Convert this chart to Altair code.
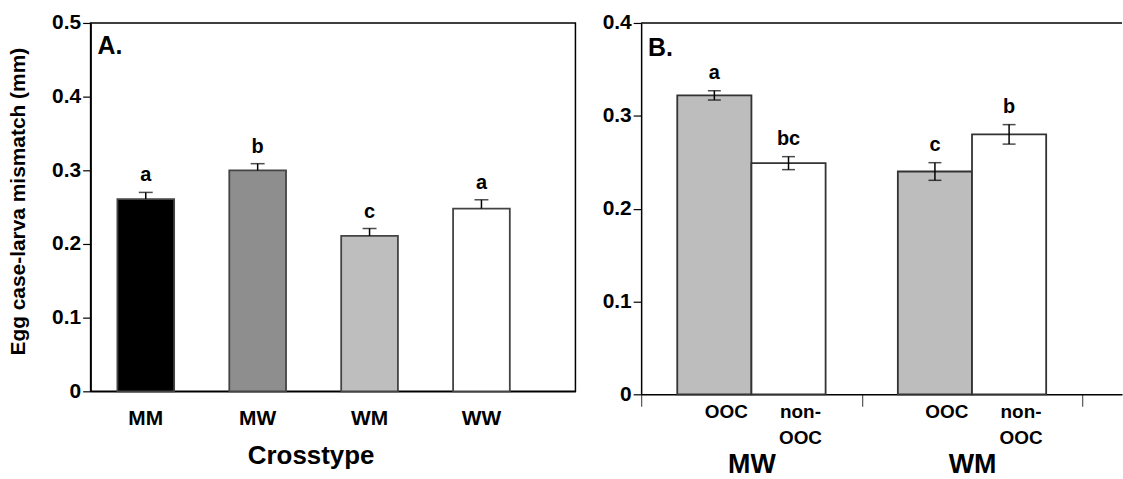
import altair as alt
import pandas as pd

# ---- Panel A data ----
crosstypes = ["MM", "MW", "WM", "WW"]
means_a = [0.261, 0.300, 0.211, 0.248]
se_a = [0.009, 0.009, 0.010, 0.012]
letters_a = ["a", "b", "c", "a"]
colors_a = ["#000000", "#8e8e8e", "#bebebe", "#ffffff"]

# ---- Panel B data ----
groups_b = ["MW", "MW", "WM", "WM"]
treat_b = ["OOC", "non-OOC", "OOC", "non-OOC"]
treat_labels_b = ["OOC", "non-\nOOC", "OOC", "non-\nOOC"]
means_b = [0.322, 0.249, 0.240, 0.280]
se_b = [0.005, 0.007, 0.0095, 0.0105]
letters_b = ["a", "bc", "c", "b"]
treat_order = ["OOC", "non-OOC"]
colors_b = ["#bdbdbd", "#ffffff"]

yticks_a = [0, 0.1, 0.2, 0.3, 0.4, 0.5]
yticks_b = [0, 0.1, 0.2, 0.3, 0.4]

FONT = "Liberation Sans"

df_a = pd.DataFrame({"cross": crosstypes, "mean": means_a, "se": se_a,
                     "letter": letters_a})
df_a["hi"] = df_a["mean"] + df_a["se"]

df_b = pd.DataFrame({"group": groups_b, "treat": treat_b, "tlabel": treat_labels_b,
                     "mean": means_b, "se": se_b, "letter": letters_b})
df_b["hi"] = df_b["mean"] + df_b["se"]
df_b["lo"] = df_b["mean"] - df_b["se"]

WA, HA = 487, 370
WB, HB = 483, 373

xa = alt.X("cross:N", sort=crosstypes,
           scale=alt.Scale(paddingInner=0.493, paddingOuter=0.413, align=0.29),
           axis=alt.Axis(title="Crosstype", labelAngle=0, ticks=False, tickSize=0,
                         labelFont=FONT, labelFontSize=21, labelFontWeight="bold",
                         labelColor="black", labelBaseline="alphabetic", labelPadding=33,
                         titleFont=FONT, titleFontSize=26, titleFontWeight="bold",
                         titleColor="black", titleX=221, titleY=72,
                         titleBaseline="alphabetic", titleAlign="center",
                         domainColor="black", domainWidth=1.5))
ya = alt.Y("mean:Q", scale=alt.Scale(domain=[0, 0.5], nice=False),
           axis=alt.Axis(title="Egg case-larva mismatch (mm)", values=yticks_a,
                         format=".1~f", tickSize=8, tickColor="black", tickWidth=1.2,
                         labelFont=FONT, labelFontSize=21, labelFontWeight="bold",
                         labelColor="black", labelPadding=2, grid=False,
                         titleFont=FONT, titleFontSize=21, titleFontWeight="bold",
                         titleColor="black", titleX=-72, titleY=179, titleAngle=-90,
                         titleAlign="center", titleBaseline="middle",
                         domainColor="black", domainWidth=1.5))

base_a = alt.Chart(df_a)
bars_a = base_a.mark_bar(stroke="#444444", strokeWidth=1.8).encode(
    x=xa, y=ya,
    fill=alt.Fill("cross:N", scale=alt.Scale(domain=crosstypes, range=colors_a), legend=None),
)
err_a = base_a.mark_rule(color="black", strokeWidth=1.5).encode(
    x=alt.X("cross:N", sort=crosstypes), y="mean:Q", y2="hi:Q")
cap_a = base_a.mark_tick(color="black", size=14, thickness=1.5).encode(
    x=alt.X("cross:N", sort=crosstypes), y="hi:Q")
let_a = base_a.mark_text(font=FONT, fontSize=20, fontWeight="bold", baseline="alphabetic",
                         dy=-11, color="black").encode(
    x=alt.X("cross:N", sort=crosstypes), y="hi:Q", text="letter:N")
tag_a = alt.Chart(alt.Data(values=[{"t": "A."}])).mark_text(
    font=FONT, fontSize=25, fontWeight="bold", align="left", baseline="alphabetic",
    color="black").encode(x=alt.value(7), y=alt.value(31), text="t:N")

panel_a = alt.layer(bars_a, err_a, cap_a, let_a, tag_a).properties(
    width=WA, height=HA, view=alt.ViewConfig(stroke="black", strokeWidth=1.5))

# ---- Panel B ----
xb = alt.X("group:N", sort=["MW", "WM"],
           scale=alt.Scale(paddingInner=0, paddingOuter=0.09, align=0),
           axis=alt.Axis(title=None, labelAngle=0, tickBand="extent", tickSize=12,
                         tickColor="#555555", tickWidth=1.2,
                         labelFont=FONT, labelFontSize=27, labelFontWeight="bold",
                         labelColor="black", labelBaseline="alphabetic", labelPadding=67,
                         domainColor="black", domainWidth=1.5))
xob = alt.XOffset("treat:N", sort=treat_order,
                  scale=alt.Scale(paddingInner=0, paddingOuter=0.487))
yb = alt.Y("mean:Q", scale=alt.Scale(domain=[0, 0.4], nice=False),
           axis=alt.Axis(title=None, values=yticks_b, format=".1~f", tickSize=8,
                         tickColor="black", tickWidth=1.2,
                         labelFont=FONT, labelFontSize=21, labelFontWeight="bold",
                         labelColor="black", labelPadding=2, grid=False,
                         domainColor="black", domainWidth=1.5))

base_b = alt.Chart(df_b)
bars_b = base_b.mark_bar(stroke="#333333", strokeWidth=1.8).encode(
    x=xb, xOffset=xob, y=yb,
    fill=alt.Fill("treat:N", scale=alt.Scale(domain=treat_order, range=colors_b), legend=None),
)
err_b = base_b.mark_rule(color="black", strokeWidth=1.5).encode(
    x=alt.X("group:N", sort=["MW", "WM"]), xOffset=xob, y="lo:Q", y2="hi:Q")
caphi_b = base_b.mark_tick(color="black", size=13, thickness=1.5).encode(
    x=alt.X("group:N", sort=["MW", "WM"]), xOffset=xob, y="hi:Q")
caplo_b = base_b.mark_tick(color="black", size=13, thickness=1.5).encode(
    x=alt.X("group:N", sort=["MW", "WM"]), xOffset=xob, y="lo:Q")
let_b = base_b.mark_text(font=FONT, fontSize=20, fontWeight="bold", baseline="alphabetic",
                         dy=-12, color="black").encode(
    x=alt.X("group:N", sort=["MW", "WM"]), xOffset=xob, y="hi:Q", text="letter:N")
tlab_b = base_b.mark_text(font=FONT, fontSize=19, fontWeight="bold", baseline="alphabetic",
                          lineBreak="\n", lineHeight=26, dx=12, color="black").encode(
    x=alt.X("group:N", sort=["MW", "WM"]), xOffset=xob, y=alt.value(HB + 24),
    text="tlabel:N")
top_b = alt.Chart(alt.Data(values=[{"a": 1}])).mark_rule(
    color="black", strokeWidth=1.5).encode(
    x=alt.value(0), x2=alt.value(WB), y=alt.value(0))
tag_b = alt.Chart(alt.Data(values=[{"t": "B."}])).mark_text(
    font=FONT, fontSize=25, fontWeight="bold", align="left", baseline="alphabetic",
    color="black").encode(x=alt.value(7), y=alt.value(33), text="t:N")

panel_b = alt.layer(bars_b, err_b, caphi_b, caplo_b, let_b, tlab_b, top_b, tag_b).properties(
    width=WB, height=HB, view=alt.ViewConfig(stroke=None))

chart = alt.hconcat(panel_a, panel_b, spacing=25).resolve_scale(
    fill="independent", x="independent", y="independent"
).properties(
    padding={"left": 7, "top": 10, "right": 0, "bottom": 0}
).configure(background="white")

chart.save("out.html", embed_options={"renderer": "svg", "actions": False})
